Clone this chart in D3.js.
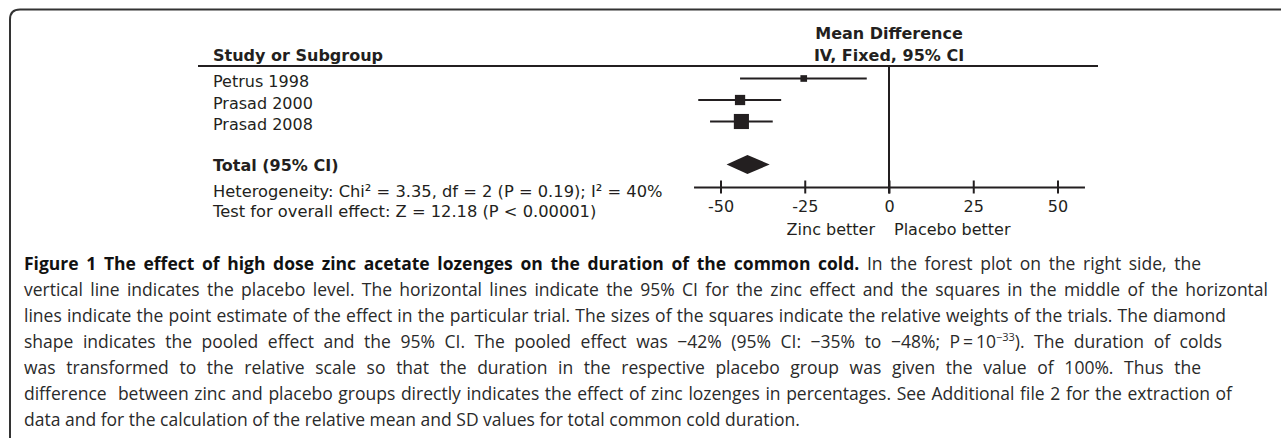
<!DOCTYPE html>
<html>
<head>
<meta charset="utf-8">
<script src="https://cdnjs.cloudflare.com/ajax/libs/d3/7.8.5/d3.min.js"></script>
<style>
  html, body { margin: 0; padding: 0; background: #ffffff; }
  svg { display: block; }
</style>
</head>
<body>
<svg id="chart" width="1281" height="438"></svg>
<script>
// ---------------- data ----------------
const studies   = ["Petrus 1998", "Prasad 2000", "Prasad 2008"];
const meanDiff  = [-25.3, -44.2, -43.8];
const ciLow     = [-44.2, -56.6, -53.1];
const ciHigh    = [-6.6, -32.0, -34.5];
const weights   = [13.2, 31.3, 55.5];
const pooled    = [-48.2, -42.0, -35.4];   // low, estimate, high
const xTicks    = [-50, -25, 0, 25, 50];
const headerLabels = ["Mean Difference", "IV, Fixed, 95% CI"];
const columnLabel  = "Study or Subgroup";
const totalLabel   = "Total (95% CI)";
const statLines = [
  "Heterogeneity: Chi\u00b2 = 3.35, df = 2 (P = 0.19); I\u00b2 = 40%",
  "Test for overall effect: Z = 12.18 (P < 0.00001)"
];
const favourLabels = ["Zinc better", "Placebo better"];
const captionLines = [
  [{t: "Figure 1 The effect of high dose zinc acetate lozenges on the duration of the common cold.", b: true},
   {t: " In the forest plot on the right side, the"}],
  [{t: "vertical line indicates the placebo level. The horizontal lines indicate the 95% CI for the zinc effect and the squares in the middle of the horizontal"}],
  [{t: "lines indicate the point estimate of the effect in the particular trial. The sizes of the squares indicate the relative weights of the trials. The diamond"}],
  [{t: "shape indicates the pooled effect and the 95% CI. The pooled effect was \u221242% (95% CI: \u221235% to \u221248%; P\u2009=\u200910"},
   {t: "\u221233", sup: true},
   {t: "). The duration of colds"}],
  [{t: "was transformed to the relative scale so that the duration in the respective placebo group was given the value of 100%. Thus the"}],
  [{t: "difference  between zinc and placebo groups directly indicates the effect of zinc lozenges in percentages. See Additional file 2 for the extraction of"}],
  [{t: "data and for the calculation of the relative mean and SD values for total common cold duration."}]
];

// ---------------- layout ----------------
const W = 1281, H = 438;
const ink = "#231f20";
const chartFont = "'DejaVu Sans', Verdana, sans-serif";
const capFont = "'Open Sans', 'Noto Sans', sans-serif";
const leftX = 213;
const svg = d3.select("#chart");

// frame (open rounded box)
const r = 10;
svg.append("path")
  .attr("d", `M10,${H + 5} L10,${9.5 + r} Q10,9.5 ${10 + r},9.5 L${W + 5},9.5`)
  .attr("fill", "none").attr("stroke", "#333").attr("stroke-width", 2);

// scales
const x = d3.scaleLinear().domain([-50, 50]).range([720.5, 1057.5]);
const y = d3.scaleLinear().domain([0, studies.length - 1]).range([78.5, 121.5]);
const side = d3.scaleLinear().domain([0, 60]).range([4, 16]);
const headerY = 66, axisY = 187, totalY = 164.5;

// headers
svg.append("text").attr("x", x(0)).attr("y", 39).attr("text-anchor", "middle")
  .attr("font-family", chartFont).attr("font-weight", "bold").attr("font-size", 16).attr("fill", ink)
  .text(headerLabels[0]);
svg.append("text").attr("x", x(0)).attr("y", 61).attr("text-anchor", "middle")
  .attr("font-family", chartFont).attr("font-weight", "bold").attr("font-size", 16).attr("fill", ink)
  .text(headerLabels[1]);
svg.append("text").attr("x", leftX).attr("y", 61)
  .attr("font-family", chartFont).attr("font-weight", "bold").attr("font-size", 16).attr("fill", ink)
  .text(columnLabel);
svg.append("line").attr("x1", 198).attr("x2", 1098).attr("y1", headerY).attr("y2", headerY)
  .attr("stroke", ink).attr("stroke-width", 2);

// study labels
svg.selectAll("text.study").data(studies).join("text").attr("class", "study")
  .attr("x", leftX).attr("y", (d, i) => y(i) + 8.5)
  .attr("font-family", chartFont).attr("font-size", 16).attr("fill", ink)
  .text(d => d);

// total + stats
svg.append("text").attr("x", leftX).attr("y", totalY + 6)
  .attr("font-family", chartFont).attr("font-weight", "bold").attr("font-size", 16).attr("fill", ink)
  .text(totalLabel);
svg.selectAll("text.stat").data(statLines).join("text").attr("class", "stat")
  .attr("x", leftX).attr("y", (d, i) => 197 + i * 20)
  .attr("font-family", chartFont).attr("font-size", 16.3).attr("fill", ink)
  .text(d => d);

// null line
svg.append("line").attr("x1", x(0)).attr("x2", x(0)).attr("y1", headerY).attr("y2", axisY + 6.5)
  .attr("stroke", ink).attr("stroke-width", 2);

// CI lines and squares
const rows = studies.map((s, i) => ({i, md: meanDiff[i], lo: ciLow[i], hi: ciHigh[i], w: weights[i]}));
svg.selectAll("line.ci").data(rows).join("line").attr("class", "ci")
  .attr("x1", d => x(d.lo)).attr("x2", d => x(d.hi))
  .attr("y1", d => y(d.i)).attr("y2", d => y(d.i))
  .attr("stroke", ink).attr("stroke-width", 2);
svg.selectAll("rect.pt").data(rows).join("rect").attr("class", "pt")
  .attr("x", d => x(d.md) - side(d.w) / 2).attr("y", d => y(d.i) - side(d.w) / 2)
  .attr("width", d => side(d.w)).attr("height", d => side(d.w))
  .attr("fill", ink);

// diamond
const dh = 9.5;
svg.append("path")
  .attr("d", `M${x(pooled[0])},${totalY} L${x(pooled[1])},${totalY - dh} L${x(pooled[2])},${totalY} L${x(pooled[1])},${totalY + dh} Z`)
  .attr("fill", ink);

// axis
const xAxisScale = x.copy().domain([-58, 58]).range([x(-58), x(58)]);
const axisG = svg.append("g").attr("transform", `translate(0,${axisY})`)
  .call(d3.axisBottom(xAxisScale).tickValues(xTicks).tickSizeOuter(0).tickSizeInner(6.5)
        .tickPadding(7).tickFormat(d => String(d)));
axisG.select(".domain").attr("stroke", ink).attr("stroke-width", 2);
axisG.selectAll(".tick line").attr("y1", -6.5).attr("y2", 6.5).attr("stroke", ink).attr("stroke-width", 2);
axisG.selectAll(".tick text").attr("font-family", chartFont).attr("font-size", 16).attr("fill", ink);

// favour labels
svg.append("text").attr("x", x(0) - 14).attr("y", 235).attr("text-anchor", "end")
  .attr("font-family", chartFont).attr("font-size", 16).attr("fill", ink).text(favourLabels[0]);
svg.append("text").attr("x", x(0) + 5).attr("y", 235)
  .attr("font-family", chartFont).attr("font-size", 16).attr("fill", ink).text(favourLabels[1]);

// caption (justified lines, last line left ragged)
const capX = 24, capY0 = 270, capStep = 26, capSize = 17.5;
const capRight = [1201, 1268, 1226, 1222, 1201, 1232, null];

function fitLine(t, target) {
  if (target == null) return;
  const natural = t.node().getComputedTextLength();
  const spaces = (t.text().match(/ /g) || []).length;
  if (natural < target && spaces > 0) {
    t.style("word-spacing", ((target - natural) / spaces) + "px");
  } else {
    t.attr("textLength", target).attr("lengthAdjust", "spacingAndGlyphs");
  }
}

captionLines.forEach((segs, li) => {
  const t = svg.append("text")
    .attr("x", capX).attr("y", capY0 + li * capStep)
    .attr("font-family", capFont).attr("font-size", capSize).attr("fill", "#2a2a2a")
    .attr("xml:space", "preserve");
  let shifted = false;
  segs.forEach(s => {
    const ts = t.append("tspan").text(s.t);
    if (s.b) ts.attr("font-weight", "bold").attr("fill", "#111");
    if (s.sup) { ts.attr("font-size", 11).attr("dy", -7); shifted = true; }
    else if (shifted) { ts.attr("dy", 7); shifted = false; }
  });
  fitLine(t, capRight[li] == null ? null : capRight[li] - capX);
});
</script>
</body>
</html>
